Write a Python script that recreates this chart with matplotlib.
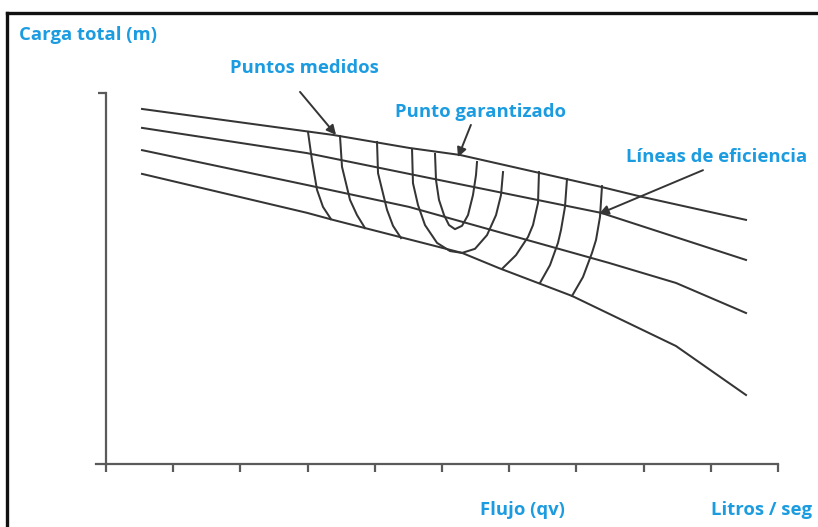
import matplotlib
matplotlib.use("Agg")
import matplotlib.pyplot as plt
from matplotlib.lines import Line2D
import numpy as np

# ---- head curves (Carga total vs Flujo) ----
c1_x = [0.536, 3.378, 4.509, 5.268, 7.366, 7.976, 9.524]
c1_y = [9.57, 8.87, 8.52, 8.33, 7.47, 7.20, 6.58]
c2_x = [0.536, 2.991, 4.509, 7.366, 9.524]
c2_y = [9.06, 8.38, 7.82, 6.77, 5.50]
c3_x = [0.536, 2.991, 4.509, 7.485, 8.482, 9.524]
c3_y = [8.46, 7.52, 6.93, 5.42, 4.88, 4.07]
c4_x = [0.536, 2.991, 3.378, 5.298, 5.848, 6.935, 8.482, 9.524]
c4_y = [7.82, 6.77, 6.58, 5.69, 5.28, 4.53, 3.18, 1.86]

# ---- efficiency lines ----
e1_x = [3.006, 3.065, 3.140, 3.229, 3.348]
e1_y = [8.95, 8.19, 7.39, 6.93, 6.60]
e2_x = [3.482, 3.512, 3.631, 3.735, 3.854]
e2_y = [8.84, 8.01, 7.12, 6.71, 6.36]
e3_x = [4.033, 4.048, 4.182, 4.271, 4.390]
e3_y = [8.68, 7.84, 6.85, 6.42, 6.09]
u_out_x = [4.554, 4.568, 4.643, 4.747, 4.926, 5.119, 5.298, 5.491, 5.670, 5.804, 5.878, 5.908]
u_out_y = [8.49, 7.57, 6.98, 6.44, 5.96, 5.74, 5.69, 5.80, 6.17, 6.71, 7.25, 7.87]
u_in_x = [4.896, 4.911, 4.955, 5.030, 5.104, 5.193, 5.298, 5.387, 5.461, 5.506, 5.521]
u_in_y = [8.36, 7.65, 7.12, 6.71, 6.44, 6.33, 6.42, 6.71, 7.25, 7.79, 8.14]
r1_x = [6.443, 6.429, 6.354, 6.280, 6.101, 5.893]
r1_y = [7.87, 7.04, 6.44, 6.12, 5.63, 5.26]
r2_x = [6.860, 6.830, 6.771, 6.726, 6.607, 6.458]
r2_y = [7.68, 6.93, 6.31, 5.96, 5.36, 4.88]
r3_x = [7.381, 7.351, 7.292, 7.232, 7.098, 6.935]
r3_y = [7.49, 6.66, 6.04, 5.69, 5.04, 4.53]

x_ticks = list(range(0, 11))

BLUE = '#1c9ce0'
INK = '#353535'
AX = '#5a5a5a'

plt.rcParams['font.family'] = ['Open Sans', 'DejaVu Sans']

fig = plt.figure(figsize=(8.18, 5.27), dpi=100)
ax = fig.add_axes([106/818, 63/527, 672/818, 371/527])
ax.set_xlim(0, 10)
ax.set_ylim(0, 10)
ax.patch.set_alpha(0)

for xs, ys in [(c1_x, c1_y), (c2_x, c2_y), (c3_x, c3_y), (c4_x, c4_y)]:
    ax.plot(xs, ys, color=INK, lw=1.45, solid_joinstyle='round', clip_on=False)
for xs, ys in [(e1_x, e1_y), (e2_x, e2_y), (e3_x, e3_y), (u_out_x, u_out_y),
               (u_in_x, u_in_y), (r1_x, r1_y), (r2_x, r2_y), (r3_x, r3_y)]:
    ax.plot(xs, ys, color=INK, lw=1.45, solid_joinstyle='round', clip_on=False)

for s in ['top', 'right']:
    ax.spines[s].set_visible(False)
ax.spines['bottom'].set_bounds(-0.15, 10)
ax.spines['bottom'].set_color(AX)
ax.spines['left'].set_color(AX)
ax.spines['bottom'].set_linewidth(1.6)
ax.spines['left'].set_linewidth(1.6)
ax.set_xticks(x_ticks)
ax.set_yticks([10])
ax.tick_params(axis='x', direction='out', length=6, width=1.6, color=AX, labelbottom=False)
ax.tick_params(axis='y', direction='out', length=6, width=1.6, color=AX, labelleft=False)

txt = dict(color=BLUE, fontweight='bold', fontsize=13.3)
arr = dict(arrowstyle='-|>', color=INK, lw=1.4, mutation_scale=14, shrinkA=0, shrinkB=0)

ax.text(-1.295, 11.56, 'Carga total (m)', ha='left', va='center', **txt)
ax.text(2.96, 10.67, 'Puntos medidos', ha='center', va='center', **txt)
ax.text(5.58, 9.49, 'Punto garantizado', ha='center', va='center', **txt)
ax.text(9.09, 8.27, 'Líneas de eficiencia', ha='center', va='center', **txt)
ax.text(6.19, -1.24, 'Flujo (qv)', ha='center', va='center', **txt)
ax.text(9.75, -1.24, 'Litros / seg', ha='center', va='center', **txt)

ax.annotate('', xy=(3.423, 8.87), xytext=(2.887, 10.03), arrowprops=arr, annotation_clip=False)
ax.annotate('', xy=(5.238, 8.27), xytext=(5.43, 9.14), arrowprops=arr, annotation_clip=False)
ax.annotate('', xy=(7.336, 6.74), xytext=(8.884, 7.92), arrowprops=arr, annotation_clip=False)

# outer frame
fig.add_artist(Line2D([7/818, 1.0], [1 - 13/527, 1 - 13/527], color='#111111', lw=2.4))
fig.add_artist(Line2D([7/818, 7/818], [0, 1 - 13/527], color='#111111', lw=2.4))

fig.savefig('out.png', dpi=100)
